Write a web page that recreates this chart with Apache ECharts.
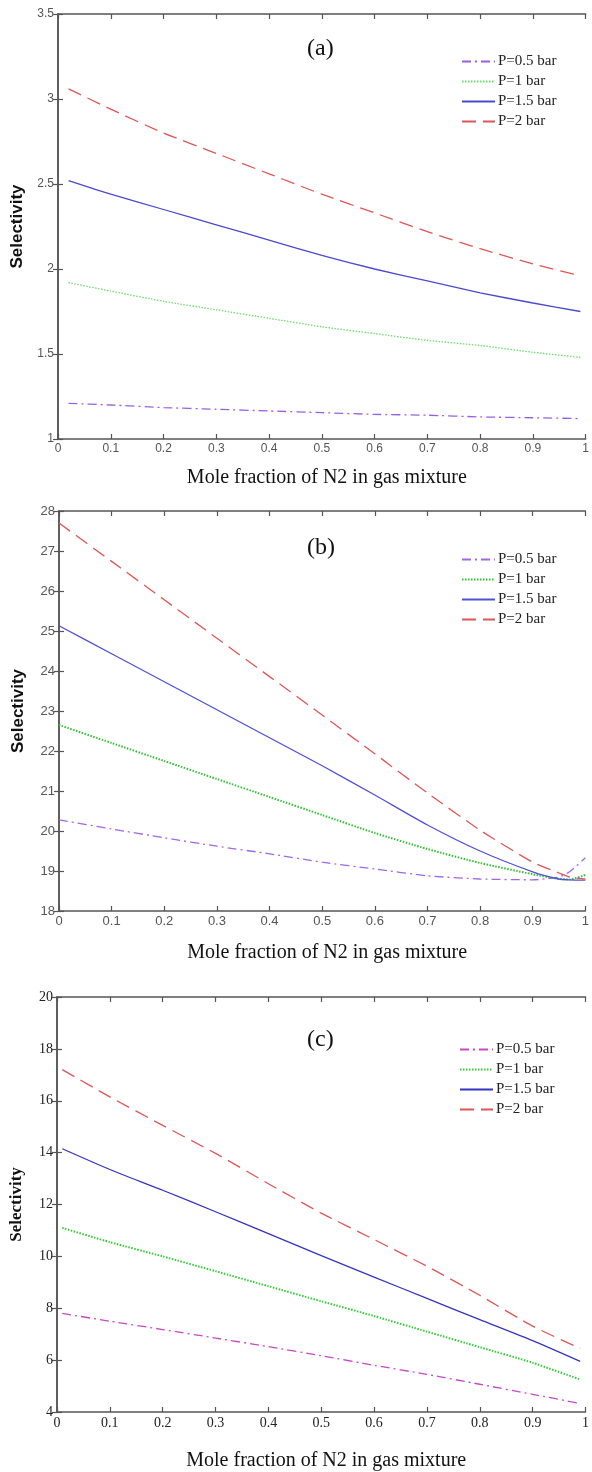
<!DOCTYPE html>
<html>
<head>
<meta charset="utf-8">
<script src="https://cdn.jsdelivr.net/npm/echarts@6/dist/echarts.min.js"></script>
<style>
  html, body { margin: 0; padding: 0; background: #fff; }
  #chart { width: 592px; height: 1472px; }
</style>
</head>
<body>
<div id="chart"></div>
<script>
// legend labels
const pressures = ["P=0.5 bar", "P=1 bar", "P=1.5 bar", "P=2 bar"];

// panel (a)
const xA = [0.02, 0.1, 0.2, 0.3, 0.4, 0.5, 0.6, 0.7, 0.8, 0.9, 0.99];
const a05 = [1.21, 1.20, 1.185, 1.175, 1.165, 1.155, 1.145, 1.14, 1.13, 1.125, 1.12];
const a1 = [1.92, 1.87, 1.81, 1.76, 1.71, 1.66, 1.62, 1.58, 1.55, 1.51, 1.48];
const a15 = [2.52, 2.44, 2.35, 2.26, 2.17, 2.08, 2.00, 1.93, 1.86, 1.80, 1.75];
const a2 = [3.06, 2.94, 2.80, 2.68, 2.56, 2.44, 2.33, 2.22, 2.12, 2.03, 1.96];

// panel (b)
const xB = [0, 0.1, 0.2, 0.3, 0.4, 0.5, 0.6, 0.7, 0.8, 0.9, 0.95, 0.97, 1];
const b05 = [20.28, 20.05, 19.83, 19.62, 19.43, 19.22, 19.05, 18.88, 18.8, 18.78, 18.85, 18.98, 19.33];
const b1 = [22.65, 22.2, 21.75, 21.3, 20.85, 20.4, 19.95, 19.55, 19.2, 18.92, 18.8, 18.79, 18.9];
const b15 = [25.13, 24.43, 23.73, 23.03, 22.33, 21.63, 20.9, 20.15, 19.5, 18.98, 18.8, 18.78, 18.77];
const b2 = [27.7, 26.74, 25.78, 24.82, 23.86, 22.9, 21.93, 20.95, 20.02, 19.22, 18.95, 18.85, 18.8];

// panel (c)
const xC = [0.01, 0.1, 0.2, 0.3, 0.4, 0.5, 0.6, 0.7, 0.8, 0.9, 0.99];
const c05 = [7.8, 7.5, 7.18, 6.85, 6.52, 6.17, 5.8, 5.45, 5.07, 4.68, 4.33];
const c1 = [11.1, 10.55, 10.0, 9.43, 8.85, 8.27, 7.7, 7.1, 6.5, 5.9, 5.25];
const c15 = [14.15, 13.35, 12.55, 11.72, 10.88, 10.03, 9.2, 8.38, 7.56, 6.75, 5.95];
const c2 = [17.2, 16.15, 15.05, 13.97, 12.8, 11.67, 10.65, 9.62, 8.5, 7.31, 6.45];

// y ranges
const yMin = [1, 18, 4];
const yMax = [3.5, 28, 20];
const yStep = [0.5, 1, 2];

const SERIF = "Liberation Serif";
const SANS = "Liberation Sans";

const panels = [
  { tag: "(a)", xs: xA, ys: [a05, a1, a15, a2], grid: { left: 58, top: 14, right: 2, height: 425 },
    colors: ["#9a5fe0", "#66e066", "#4a4ad0", "#e05555"], tickFont: SANS, tickSize: 12, tickColor: "#555",
    yNameFont: SANS, titleTop: 37, legendTop: 54, legendLeft: 461, nameGap: 29 },
  { tag: "(b)", xs: xB, ys: [b05, b1, b15, b2], grid: { left: 59, top: 511, right: 3, height: 400 },
    colors: ["#a066e8", "#2ec42e", "#5050d8", "#e05555"], tickFont: SANS, tickSize: 13, tickColor: "#555",
    yNameFont: SANS, titleTop: 536, legendTop: 552, legendLeft: 461, nameGap: 32 },
  { tag: "(c)", xs: xC, ys: [c05, c1, c15, c2], grid: { left: 57, top: 997, right: 5, height: 416 },
    colors: ["#c848c8", "#2ed02e", "#3535c0", "#e05555"], tickFont: SERIF, tickSize: 14, tickColor: "#222",
    yNameFont: SERIF, titleTop: 1028, legendTop: 1042, legendLeft: 459, nameGap: 39 }
];

const dashes = [[9, 4, 2, 4], [1.5, 1.5], "solid", [14, 7]];

const option = { animation: false, backgroundColor: "#fff", grid: [], xAxis: [], yAxis: [], series: [], legend: [], title: [] };

panels.forEach((p, i) => {
  option.grid.push(p.grid);
  const axisLine = { show: true, lineStyle: { color: "#555", width: 1.5 } };
  const tick = { show: true, inside: true, length: 5, lineStyle: { color: "#555", width: 1.2 } };
  option.xAxis.push({
    type: "value", gridIndex: i, min: 0, max: 1, interval: 0.1, position: "bottom",
    axisLine, axisTick: tick, splitLine: { show: false },
    axisLabel: { fontFamily: p.tickFont, fontSize: p.tickSize, color: p.tickColor, margin: 4 },
    name: "Mole fraction of N2 in gas mixture", nameLocation: "middle", nameGap: p.nameGap,
    nameTextStyle: { fontFamily: SERIF, fontSize: 20, color: "#111", padding: [0, 0, 0, 10] }
  });
  option.xAxis.push({
    type: "value", gridIndex: i, min: 0, max: 1, interval: 0.1, position: "top",
    axisLine, axisTick: tick, axisLabel: { show: false }, splitLine: { show: false }
  });
  option.yAxis.push({
    type: "value", gridIndex: i, min: yMin[i], max: yMax[i], interval: yStep[i], position: "left",
    axisLine, axisTick: tick, splitLine: { show: false },
    axisLabel: { fontFamily: p.tickFont, fontSize: p.tickSize, color: p.tickColor, margin: 4 },
    name: "Selectivity", nameLocation: "middle", nameGap: 32,
    nameTextStyle: { fontFamily: p.yNameFont, fontSize: 17, fontWeight: "bold", color: "#111" }
  });
  option.yAxis.push({
    type: "value", gridIndex: i, min: yMin[i], max: yMax[i], interval: yStep[i], position: "right",
    axisLine, axisTick: tick, axisLabel: { show: false }, splitLine: { show: false }
  });
  option.title.push({
    text: p.tag, left: 307, top: p.titleTop, padding: 0,
    textStyle: { fontFamily: SERIF, fontSize: 24, fontWeight: "normal", color: "#111" }
  });
  const names = pressures.map(n => p.tag + "|" + n);
  option.legend.push({
    data: names, orient: "vertical", left: p.legendLeft, top: p.legendTop, padding: 0,
    itemWidth: 33, itemHeight: 14, itemGap: 5, selectedMode: false,
    itemStyle: { opacity: 0 },
    formatter: n => n.split("|")[1],
    textStyle: { fontFamily: SERIF, fontSize: 15, color: "#222", padding: [0, 0, 0, -2] }
  });
  p.ys.forEach((vals, k) => {
    option.series.push({
      name: names[k], type: "line", xAxisIndex: 2 * i, yAxisIndex: 2 * i,
      data: p.xs.map((x, j) => [x, vals[j]]),
      symbol: "none", smooth: 0.2,
      lineStyle: { color: p.colors[k], width: k === 1 && i > 0 ? 2 : 1.3, type: dashes[k] },
      itemStyle: { color: p.colors[k] }
    });
  });
});

const chart = echarts.init(document.getElementById("chart"));
chart.setOption(option);
</script>
</body>
</html>
